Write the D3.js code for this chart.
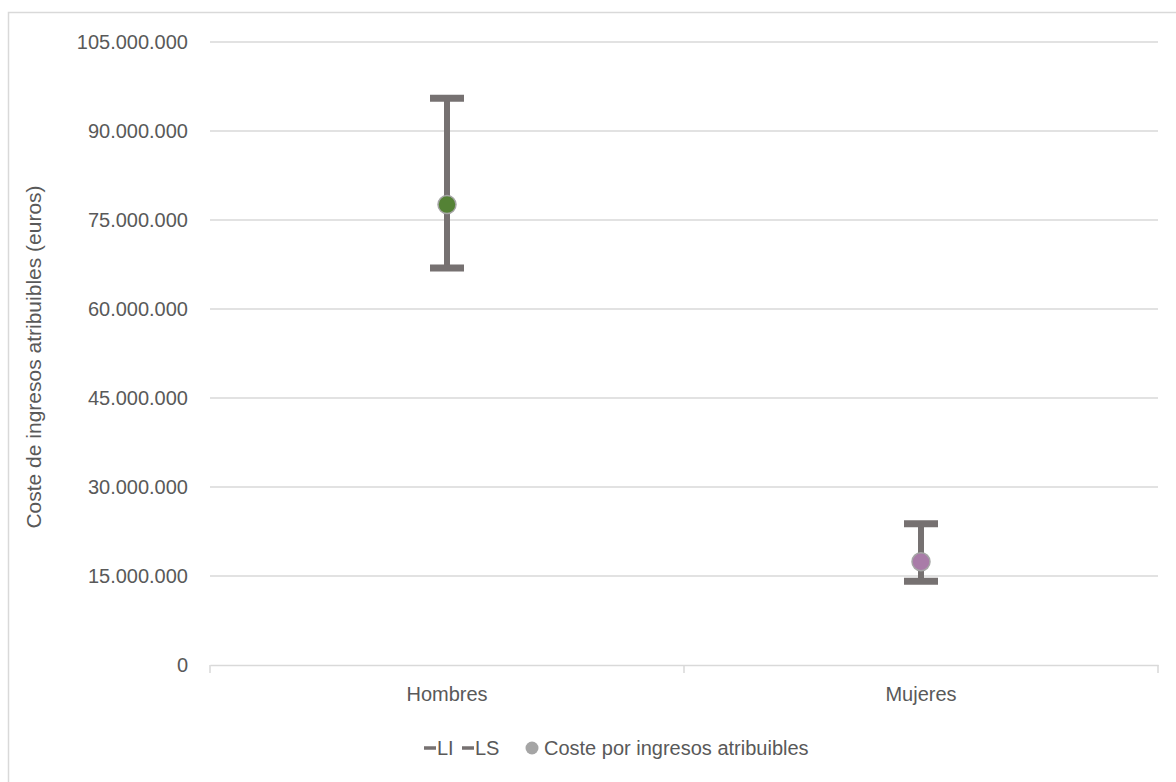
<!DOCTYPE html>
<html><head><meta charset="utf-8">
<script src="https://cdn.jsdelivr.net/npm/d3@7"></script>
<style>body{margin:0;background:#fff}svg{display:block}text{font-family:"Liberation Sans",Arial,sans-serif}</style>
</head><body><svg id="c" width="1176" height="782"></svg>
<script>
const categories = ["Hombres", "Mujeres"];
const LI = [66900000, 14100000];
const LS = [95500000, 23800000];
const coste = [77600000, 17400000];
const pointColors = ["#548235", "#a97ca8"];
const yTicks = [0, 15000000, 30000000, 45000000, 60000000, 75000000, 90000000, 105000000];
const yTitle = "Coste de ingresos atribuibles (euros)";
const legendLabels = ["LI", "LS", "Coste por ingresos atribuibles"];

const svg = d3.select("#c");
svg.append("rect").attr("x",8.5).attr("y",12.5).attr("width",1200).attr("height",800)
  .attr("fill","none").attr("stroke","#d9d9d9").attr("stroke-width",1.5);

const L=210, R=1158, T=42, B=665;
const FS = 20;
const x = d3.scaleBand().domain(categories).range([L,R]).padding(0);
const y = d3.scaleLinear().domain([0,105000000]).range([B,T]);
const fmt = v => d3.format(",")(v).replace(/,/g,".");

// gridlines
svg.append("g").selectAll("line").data(yTicks.filter(d=>d>0)).join("line")
  .attr("x1",L).attr("x2",R).attr("y1",d=>y(d)).attr("y2",d=>y(d))
  .attr("stroke","#d9d9d9").attr("stroke-width",1.3);

// y axis labels
const ya = svg.append("g").attr("transform",`translate(${L},0)`)
  .call(d3.axisLeft(y).tickValues(yTicks).tickFormat(fmt).tickSize(0).tickPadding(22));
ya.select(".domain").remove();
ya.selectAll("text").attr("font-size",FS).attr("fill","#595959").attr("font-family","Liberation Sans, Arial, sans-serif");

// x axis
const xa = svg.append("g").attr("transform",`translate(0,${B})`)
  .call(d3.axisBottom(x).tickSize(0).tickPadding(22));
xa.select(".domain").attr("stroke","#d9d9d9").attr("stroke-width",1.5);
xa.selectAll("text").attr("font-size",FS).attr("fill","#595959").attr("font-family","Liberation Sans, Arial, sans-serif");
svg.append("g").selectAll("line").data([L, x(categories[1]), R]).join("line")
  .attr("x1",d=>d).attr("x2",d=>d).attr("y1",B).attr("y2",B+8)
  .attr("stroke","#d9d9d9").attr("stroke-width",1.5);

// y title
svg.append("text").attr("transform","translate(41,357) rotate(-90)")
  .attr("text-anchor","middle").attr("font-size",FS+1).attr("fill","#595959").text(yTitle);

const cx = d => x(d)+x.bandwidth()/2;
const gray="#767171";
const g = svg.append("g");
categories.forEach((c,i)=>{
  g.append("line").attr("x1",cx(c)).attr("x2",cx(c)).attr("y1",y(LI[i])).attr("y2",y(LS[i]))
    .attr("stroke",gray).attr("stroke-width",6);
  [LI[i],LS[i]].forEach(v=>{
    g.append("line").attr("x1",cx(c)-17).attr("x2",cx(c)+17).attr("y1",y(v)).attr("y2",y(v))
      .attr("stroke",gray).attr("stroke-width",7);
  });
});
g.selectAll("circle").data(coste).join("circle")
  .attr("cx",(d,i)=>cx(categories[i])).attr("cy",d=>y(d)).attr("r",9)
  .attr("fill",(d,i)=>pointColors[i]).attr("stroke","#a5a5a5").attr("stroke-width",1.5);

// legend
const lg = svg.append("g").attr("font-size",FS).attr("fill","#595959");
lg.append("line").attr("x1",424).attr("x2",436).attr("y1",748).attr("y2",748).attr("stroke",gray).attr("stroke-width",3.5);
lg.append("text").attr("x",437).attr("y",755).text(legendLabels[0]);
lg.append("line").attr("x1",462).attr("x2",474).attr("y1",748).attr("y2",748).attr("stroke",gray).attr("stroke-width",3.5);
lg.append("text").attr("x",475).attr("y",755).text(legendLabels[1]);
lg.append("circle").attr("cx",532).attr("cy",748).attr("r",6.5).attr("fill","#a5a5a5");
lg.append("text").attr("x",544).attr("y",755).text(legendLabels[2]);
</script></body></html>
